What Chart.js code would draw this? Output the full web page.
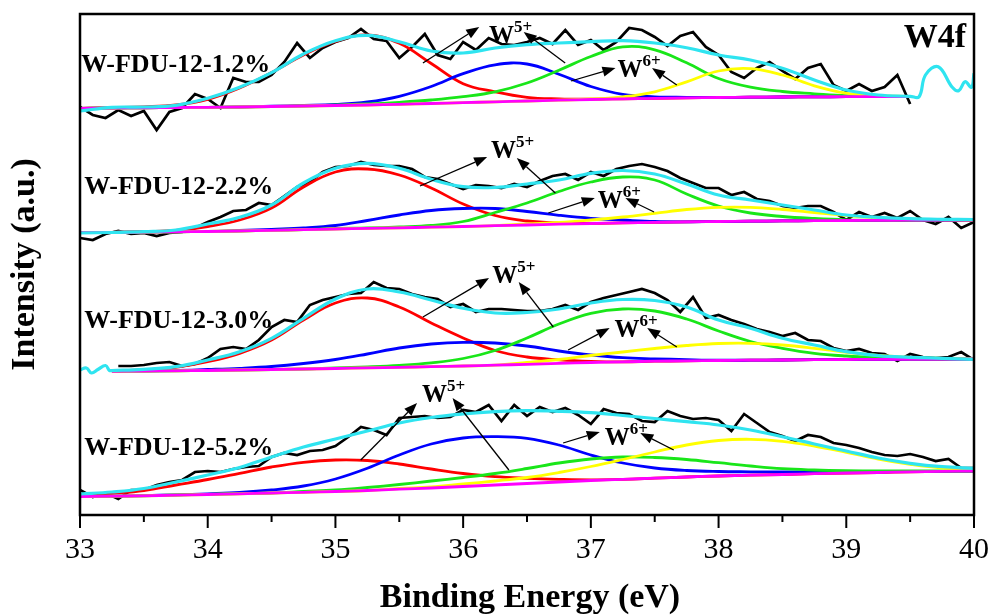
<!DOCTYPE html>
<html lang="en">
<head>
<meta charset="UTF-8">
<title>W4f XPS</title>
<script src="https://cdn.jsdelivr.net/npm/chart.js"></script>
<style>
  html, body { margin: 0; padding: 0; background: #fff; }
  #wrap { width: 1006px; height: 615px; position: relative; }
</style>
</head>
<body>
<div id="wrap"><canvas id="xps"></canvas></div>
<script>
const serif = '"Liberation Serif", "Times New Roman", Times, serif';

// binding energy grids (eV)
const energyFit = [33, 33.25, 33.5, 33.75, 34, 34.25, 34.5, 34.75, 35, 35.25, 35.5, 35.75, 36, 36.25, 36.5,
  36.75, 37, 37.25, 37.5, 37.75, 38, 38.25, 38.5, 38.75, 39, 39.25, 39.5, 39.75, 40];
const energyRaw = [33.0, 33.1, 33.2, 33.3, 33.4, 33.5, 33.6, 33.7, 33.8, 33.9,
  34.0, 34.1, 34.2, 34.3, 34.4, 34.5, 34.6, 34.7, 34.8, 34.9,
  35.0, 35.1, 35.2, 35.3, 35.4, 35.5, 35.6, 35.7, 35.8, 35.9,
  36.0, 36.1, 36.2, 36.3, 36.4, 36.5, 36.6, 36.7, 36.8, 36.9,
  37.0, 37.1, 37.2, 37.3, 37.4, 37.5, 37.6, 37.7, 37.8, 37.9,
  38.0, 38.1, 38.2, 38.3, 38.4, 38.5, 38.6, 38.7, 38.8, 38.9,
  39.0, 39.1, 39.2, 39.3, 39.4, 39.5, 39.6, 39.7, 39.8, 39.9, 40.0];

const sampleNames = ['W-FDU-12-1.2%', 'W-FDU-12-2.2%', 'W-FDU-12-3.0%', 'W-FDU-12-5.2%'];

// W-FDU-12-1.2% (offset spectrum, arbitrary units)
const raw12 = [408, 400, 397, 405, 399, 404, 385, 403, 407, 421,
  416, 407, 437, 433, 433, 440, 453, 472, 457, 467,
  473, 477, 486, 476, 474, 457, 468, 481, 460, 456,
  473, 465, 477, 471, 470, 473, 477, 471, 485, 470,
  475, 465, 473, 487, 485, 478, 469, 479, 483, 468,
  460, 443, 437, 447, 453, 444, 436, 447, 451, 430,
  424, 431, 424, 428, 440, 411, null, null, null, null, null];
const base12 = [406.7, 407, 407.2, 407.5, 407.7, 408, 408.5, 409, 409.5, 410, 410.7, 411.5, 412.3, 413.2, 414,
  414.8, 415.5, 416.2, 416.7, 417.2, 417.5, 417.8, 418, 418.2, 418.3, 418.4, 418.5];
const red12 = [406.7, 407.5, 408.2, 410, 415.7, 427, 442.5, 460, 473.5, 480, 471.7, 451.5, 431.3, 423.2, 417.7,
  416.1, 415.8, 416.2, 416.7, 417.2, 417.5, 417.8, 418, 418.2, 418.3, 418.4, 418.5];
const blue12 = [406.7, 407, 407.2, 407.5, 407.7, 408, 408.8, 409.5, 410.5, 413, 418.7, 428.5, 441.3, 450.2, 451,
  440.8, 428.5, 420.7, 418.2, 417.7, 417.5, 417.8, 418, 418.2, 418.3, 418.4, 418.5];
const green12 = [406.7, 407, 407.2, 407.5, 407.7, 408, 408.5, 409, 410, 411, 412.7, 415, 418.3, 423.2, 432,
  444.8, 458.5, 468.2, 465.2, 452.2, 436.5, 427.8, 423.5, 421.2, 419.3, 418.9, 418.5];
const yellow12 = [406.7, 407, 407.2, 407.5, 407.7, 408, 408.5, 409, 409.5, 410, 410.7, 411.5, 412.3, 413.2, 414,
  414.8, 416, 418.2, 423.2, 433.2, 444, 446.3, 440, 429.2, 421.8, 419.4, 418.5];
const env12 = [404, 407.7, 408, 409.7, 416.7, 427.7, 442.3, 461, 474.3, 479.7, 473.3, 464, 462, 467, 470.3,
  472, 473.3, 474.3, 472, 467.3, 460, 455, 446.7, 435, 425, 420, 418.7];
const tailEnergy12 = [39.57, 39.62, 39.72, 39.83, 39.88, 39.93, 39.98, 40];
const tail12 = [418.3, 440, 448.3, 427.7, 424.3, 433.3, 427.7, 441.7];

// W-FDU-12-2.2%
const raw22 = [277, 275, 281, 284, 281, 282, 279, 282, 283, 287,
  293, 298, 304, 305, 312, 310, 319, 328, 333, 343,
  348, 349, 353, 350, 349, 349, 346, 338, 336, 331,
  326, 330, 329, 327, 331, 328, 334, 339, 341, 335,
  343, 339, 346, 349, 351, 348, 344, 337, 332, 327,
  327, 320, 323, 316, 314, 309, 307, 309, 309, 303,
  295, 303, 298, 302, 297, 304, 295, 291, 298, 287, 293];
const base22 = [282.3, 282.6, 282.9, 283.2, 283.5, 284, 284.6, 285.3, 286, 286.6, 287.2, 287.8, 288.5, 289.3, 290,
  290.8, 291.5, 292.1, 292.6, 293.1, 293.5, 293.8, 294.1, 294.3, 294.5, 294.7, 294.8, 294.9, 295];
const red22 = [282.3, 282.7, 283.5, 284.5, 288.5, 295, 307, 328, 343, 346, 340, 327, 311, 299.5, 294,
  292, 291.7, 292.1, 292.6, 293.1, 293.5, 293.8, 294.1, 294.3, 294.5, 294.7, 294.8, 294.9, 295];
const blue22 = [282.3, 282.6, 282.9, 283.2, 283.5, 284.5, 285.7, 287, 289.5, 294.5, 300, 304.5, 306.5, 306.5, 303.5,
  299.7, 296.7, 295, 293.5, 293.2, 293.5, 293.8, 294.1, 294.3, 294.5, 294.7, 294.8, 294.9, 295];
const green22 = [282.3, 282.6, 282.9, 283.2, 283.5, 284, 284.6, 285.3, 286.5, 287, 288, 289.5, 293.5, 302.5, 312,
  323.5, 333, 338, 335, 321, 309, 302, 298.5, 296.5, 295.2, 294.8, 294.8, 294.9, 295];
const yellow22 = [282.3, 282.6, 282.9, 283.2, 283.5, 284, 284.6, 285.3, 286, 286.6, 287.2, 287.8, 288.5, 289.3, 291,
  292.5, 295, 298, 301.7, 305.5, 307.7, 307.7, 305.5, 302.5, 299.5, 297.2, 296, 295.3, 295];
const env22 = [282, 282.5, 283.3, 285, 291, 297.7, 310, 332, 346.7, 351.7, 346.7, 335.7, 328.3, 327.5, 331,
  335, 341.7, 344.5, 341, 331, 320, 315, 310, 305, 300, 297.7, 296.3, 295.7, 295.5];

// W-FDU-12-3.0%
const raw30 = [null, null, null, 149, 149, 150, 152, 153, 149, 151,
  157, 166, 168, 166, 175, 188, 195, 193, 210, 215,
  218, 221, 222, 233, 227, 226, 221, 218, 216, 208,
  211, 203, 206, 206, 205, 204, 204, 206, 210, 205,
  213, 217, 220, 223, 226, 222, 215, 203, 218, 197,
  200, 195, 191, 186, 183, 179, 182, 175, 174, 167,
  164, 166, 162, 161, 154, 161, 158, 157, 158, 163, 155];
const base30 = [null, 143.7, 144, 144.2, 144.5, 145, 145.5, 146, 146.5, 147.1, 147.7, 148.3, 149, 149.8, 150.7,
  151.6, 152.5, 153.2, 153.8, 154.2, 154.5, 154.8, 155, 155.3, 155.5, 155.7, 155.8, 155.9, 156];
const red30 = [null, 144, 145.3, 147.7, 153.3, 161.7, 175, 195, 212, 217, 208, 192, 177, 164.5, 158,
  155.2, 153.7, 153.2, 153.8, 154.2, 154.5, 154.8, 155, 155.3, 155.5, 155.7, 155.8, 155.9, 156];
const blue30 = [null, 143.7, 144, 144.5, 145.5, 146.7, 148.5, 151.5, 155.5, 161, 167, 171, 172.7, 172, 169,
  164, 160, 157.3, 156.2, 155.4, 154.8, 154.8, 155, 155.3, 155.5, 155.7, 155.8, 155.9, 156];
const green30 = [null, 143.7, 144, 144.2, 144.5, 145, 145.5, 146, 147.2, 148.2, 149.7, 152.2, 156.5, 164.5, 177,
  191, 201.7, 206, 204, 196, 184, 173.5, 166.7, 161.7, 159, 157.5, 156.7, 156.2, 156];
const yellow30 = [null, 143.7, 144, 144.2, 144.5, 145, 145.5, 146, 146.5, 147.1, 147.7, 148.3, 149, 149.8, 152.5,
  155.5, 159.5, 163, 166.5, 169.5, 171.5, 171.7, 170, 166.7, 162.7, 159.7, 157.7, 156.7, 156.2];
const env30 = [null, 144.5, 145.7, 148.3, 155, 163.3, 176.7, 196.7, 216, 226, 223, 215, 206.7, 202, 202.5,
  206, 212, 215.5, 214.5, 208, 195, 186.7, 176.7, 170, 163.3, 159.3, 157.7, 156.7, 155.7];
const headEnergy30 = [33, 33.05, 33.09, 33.14, 33.2, 33.23];
const head30 = [145, 147, 142, 145.5, 149.5, 144.5];

// W-FDU-12-5.2%
const raw52 = [25, 18, 22, 16, 25, 25, 30, 33, 35, 43,
  44, 43, 46, 48, 49, 58, 62, 60, 64, 65,
  69, 78, 88, 85, 80, 97, 98, 99, 97, 98,
  105, 103, 110, 94, 110, 99, 108, 103, 107, 100,
  91, 106, 102, 101, 94, 93, 104, 99, 96, 97,
  95, 84, 101, 92, 83, 79, 74, 80, 78, 72,
  70, 67, 63, 60, 59, 61, 58, 54, 56, 47, 47];
const base52 = [18.5, 18.8, 19.2, 19.8, 20.5, 21.2, 22, 22.7, 23.5, 24.5, 25.8, 27, 28.5, 30, 31.5,
  33, 34.5, 35.7, 36.8, 38, 39, 39.8, 40.5, 41.3, 42, 42.5, 43.1, 43.6, 44];
const red52 = [19, 21.5, 24.5, 30, 35.5, 41.7, 48, 52.7, 55, 54.5, 51, 46, 41.5, 38.3, 36.7,
  35.7, 35.2, 35.7, 36.8, 38, 39, 39.8, 40.5, 41.3, 42, 42.5, 43.1, 43.6, 44];
const blue52 = [18.5, 18.8, 19.4, 20.2, 21.2, 22.5, 25, 29, 36, 46.7, 60, 71, 77, 78.3, 76.7,
  70, 60, 52, 47, 44.5, 43.5, 43.2, 43, 43, 43, 43.2, 43.5, 43.7, 44];
const green52 = [18.5, 18.8, 19.2, 20, 20.7, 21.3, 22, 23.5, 25, 27.5, 30.5, 34, 37.5, 41.5, 46.5,
  52, 56, 58, 57.5, 55.5, 52.3, 49, 46.3, 45, 44.3, 44, 44, 44, 44];
const yellow52 = [18.5, 18.8, 19.2, 19.8, 20.5, 21.2, 22, 22.7, 23.5, 24.5, 26.5, 28, 31, 34, 37.5,
  42.5, 48.5, 55.5, 63, 70, 74.5, 75.7, 73.7, 69, 62.7, 56, 50.7, 47, 46];
const env52 = [21, 23, 26.5, 33, 40, 47.5, 58, 68, 76, 84, 92, 97.5, 101, 103.3, 104.3,
  103.7, 102.3, 99.5, 96.5, 93.3, 90, 85, 78.3, 71, 64, 57, 51.7, 48.3, 46.7];

// annotation anchors in (eV, intensity)
const sampleLabelAt = [[33.01, 443], [33.033, 321], [33.033, 187], [33.033, 60]];
const ionNotes = [
  {ion: '5+', at: [36.203, 472], arrows: [[35.685, 452, 36.126, 488], [36.799, 452, 36.474, 483]]},
  {ion: '6+', at: [37.209, 438], arrows: [[36.845, 434, 37.193, 447], [37.673, 430, 37.479, 447]]},
  {ion: '5+', at: [36.219, 357], arrows: [[35.662, 329, 36.188, 358], [36.722, 322, 36.420, 357]]},
  {ion: '6+', at: [37.054, 307], arrows: [[36.667, 302, 37.031, 317], [37.495, 303, 37.271, 317]]},
  {ion: '5+', at: [36.227, 232], arrows: [[35.685, 198, 36.203, 237], [36.706, 188, 36.435, 233]]},
  {ion: '6+', at: [37.185, 178], arrows: [[36.822, 165, 37.147, 187], [37.673, 168, 37.441, 187]]},
  {ion: '5+', at: [35.678, 113], arrows: [[35.198, 55, 35.639, 112], [36.358, 45, 35.917, 117]]},
  {ion: '6+', at: [37.108, 70], arrows: [[36.783, 72, 37.070, 83], [37.649, 65, 37.387, 82]]}
];

function pts(xs, ys) {
  return ys.map((y, i) => ({x: xs[i], y: y}));
}

const spectra = [
  {raw: raw12, base: base12, red: red12, blue: blue12, green: green12, yellow: yellow12,
   env: pts(energyFit, env12).concat(pts(tailEnergy12, tail12))},
  {raw: raw22, base: base22, red: red22, blue: blue22, green: green22, yellow: yellow22,
   env: pts(energyFit, env22)},
  {raw: raw30, base: base30, red: red30, blue: blue30, green: green30, yellow: yellow30,
   env: pts(headEnergy30, head30).concat(pts(energyFit, env30).filter(p => p.y !== null))},
  {raw: raw52, base: base52, red: red52, blue: blue52, green: green52, yellow: yellow52,
   env: pts(energyFit, env52)}
];

function curve(data, color, width, order, smooth) {
  return {
    data: data, borderColor: color, borderWidth: width, order: order,
    pointRadius: 0, fill: false, spanGaps: false,
    tension: smooth ? 0.4 : 0
  };
}

const datasets = [];
spectra.forEach(s => {
  datasets.push(curve(pts(energyRaw, s.raw), '#000000', 2.7, 7, false));
  datasets.push(curve(pts(energyFit, s.red), '#ff0000', 2.8, 6, true));
  datasets.push(curve(pts(energyFit, s.blue), '#0000ff', 2.8, 5, true));
  datasets.push(curve(pts(energyFit, s.green), '#19e619', 2.8, 4, true));
  datasets.push(curve(pts(energyFit, s.yellow), '#ffff00', 2.8, 3, true));
  datasets.push(curve(pts(energyFit, s.base), '#ff00ff', 2.8, 2, true));
  datasets.push(curve(s.env, '#2fe4f0', 3.2, 1, true));
});

function arrow(ctx, x1, y1, x2, y2) {
  const ang = Math.atan2(y2 - y1, x2 - x1), len = 13, half = 5;
  const bx = x2 - len * Math.cos(ang), by = y2 - len * Math.sin(ang);
  ctx.beginPath();
  ctx.moveTo(x1, y1);
  ctx.lineTo(bx, by);
  ctx.stroke();
  ctx.beginPath();
  ctx.moveTo(x2, y2);
  ctx.lineTo(bx + half * Math.sin(ang), by - half * Math.cos(ang));
  ctx.lineTo(bx - half * Math.sin(ang), by + half * Math.cos(ang));
  ctx.closePath();
  ctx.fill();
}

// frame, minor ticks, titles and the text annotations
const decor = {
  id: 'decor',
  afterDatasetsDraw(chart) {
    const {ctx, chartArea: a, scales: {x, y}} = chart;
    ctx.save();
    ctx.fillStyle = '#000';
    ctx.strokeStyle = '#000';
    ctx.textBaseline = 'alphabetic';
    ctx.textAlign = 'left';

    ctx.font = 'bold 26px ' + serif;
    sampleNames.forEach((name, i) => {
      ctx.fillText(name, x.getPixelForValue(sampleLabelAt[i][0]), y.getPixelForValue(sampleLabelAt[i][1]));
    });

    ctx.lineWidth = 1.3;
    ionNotes.forEach(n => {
      const px = x.getPixelForValue(n.at[0]), py = y.getPixelForValue(n.at[1]);
      ctx.font = 'bold 25px ' + serif;
      ctx.fillText('W', px, py);
      const w = ctx.measureText('W').width;
      ctx.font = 'bold 17px ' + serif;
      ctx.fillText(n.ion, px + w, py - 11);
      n.arrows.forEach(r => arrow(ctx, x.getPixelForValue(r[0]), y.getPixelForValue(r[1]),
        x.getPixelForValue(r[2]), y.getPixelForValue(r[3])));
    });

    ctx.font = 'bold 34px ' + serif;
    ctx.textAlign = 'right';
    ctx.fillText('W4f', a.right - 8, a.top + 33);

    // box
    ctx.lineWidth = 2.5;
    ctx.strokeRect(a.left, a.top, a.right - a.left, a.bottom - a.top);

    // major + minor ticks
    ctx.lineWidth = 2;
    x.ticks.forEach((t, i) => {
      const p = x.getPixelForValue(t.value);
      ctx.beginPath(); ctx.moveTo(p, a.bottom); ctx.lineTo(p, a.bottom + 13); ctx.stroke();
      if (i < x.ticks.length - 1) {
        const m = x.getPixelForValue((t.value + x.ticks[i + 1].value) / 2);
        ctx.beginPath(); ctx.moveTo(m, a.bottom); ctx.lineTo(m, a.bottom + 7); ctx.stroke();
      }
    });

    // axis titles
    ctx.font = 'bold 34px ' + serif;
    ctx.textAlign = 'center';
    ctx.fillText('Binding Energy (eV)', (a.left + a.right) / 2 + 3, a.bottom + 92);
    ctx.translate(25, (a.top + a.bottom) / 2);
    ctx.rotate(-Math.PI / 2);
    ctx.textBaseline = 'middle';
    ctx.fillText('Intensity (a.u.)', 0, 0);
    ctx.restore();
  }
};

new Chart(document.getElementById('xps'), {
  type: 'line',
  data: { datasets: datasets },
  options: {
    responsive: true,
    maintainAspectRatio: false,
    animation: false,
    devicePixelRatio: 1,
    layout: { padding: { left: 80, right: 20, top: 14, bottom: 0 } },
    plugins: { legend: { display: false }, tooltip: { enabled: false } },
    scales: {
      x: {
        type: 'linear', min: 33, max: 40,
        afterFit: s => { s.height = 100; },
        grid: { display: false, drawTicks: false },
        border: { display: false },
        ticks: { stepSize: 1, padding: 17, color: '#000', maxRotation: 0,
                 font: { family: serif, size: 30 } }
      },
      y: { display: false, min: 0, max: 501 }
    }
  },
  plugins: [decor]
});
</script>
</body>
</html>
